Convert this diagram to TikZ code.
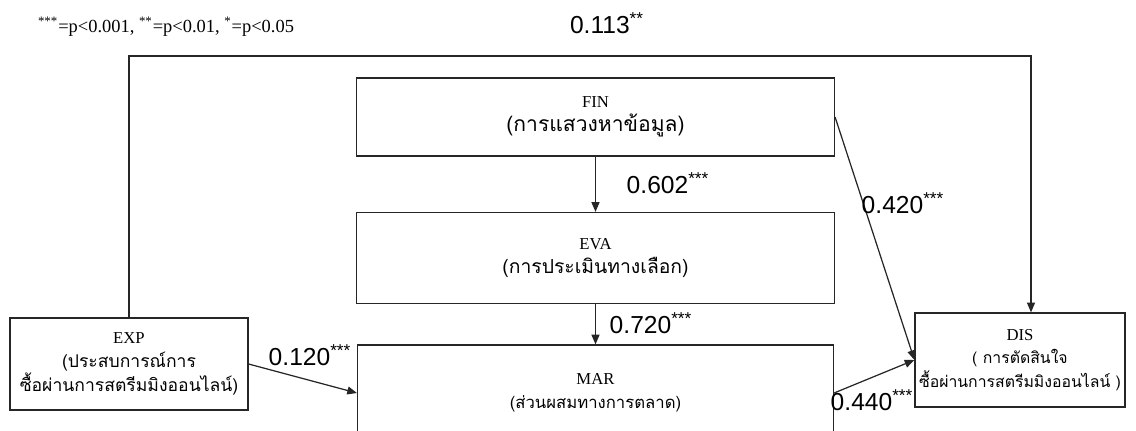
\documentclass[tikz,border=0pt]{standalone}
\usepackage{fontspec}
\setmainfont{Liberation Serif}
\newfontfamily\numfont{Liberation Sans}
\newfontfamily\thaifont[Script=Thai]{Loma}
\usetikzlibrary{arrows.meta}

\tikzset{
  box/.style={draw=black!85, line width=.7pt, rectangle, align=center, inner sep=0pt,
    font=\fontsize{9.5}{13.5}\selectfont},
  coef/.style={font=\numfont\fontsize{14}{16}\selectfont, inner sep=0pt},
  path/.style={draw=black!85, line width=.7pt, -{Triangle[length=5.5pt,width=4.5pt]}}
}
\newcommand{\thtxt}[2][10]{{\thaifont\fontsize{#1}{13.5}\selectfont #2}}

\begin{document}
\begin{tikzpicture}[x=0.02cm, y=-0.02cm]
			\clip (0,0) rectangle (1136,430);
			\fill[white] (0,0) rectangle (1136,430);
			
			\node [font=\fontsize{10.5}{12}\selectfont, inner sep=0pt] (key) at (166,27)
				{\textsuperscript{***}=p<0.001, \textsuperscript{**}=p<0.01, \textsuperscript{*}=p<0.05};
			
			\node [box, minimum width=9.56cm, minimum height=1.56cm] (FIN) at (595.5,117) {FIN\\ \thtxt[12]{(การแสวงหาข้อมูล)}};
			\node [box, minimum width=9.56cm, minimum height=1.82cm] (EVA) at (595.5,258) {EVA\\ \thtxt[11]{(การประเมินทางเลือก)}};
			\node [box, minimum width=9.52cm, minimum height=1.92cm] (MAR) at (595.5,393) {MAR\\ \thtxt[9.5]{(ส่วนผสมทางการตลาด)}};
			\node [box, minimum width=4.76cm, minimum height=1.84cm] (EXP) at (129,364) {EXP\\ \thtxt{(ประสบการณ์การ}\\ \thtxt{ซื้อผ่านการสตรีมมิงออนไลน์)}};
			\node [box, minimum width=4.2cm, minimum height=1.88cm] (DIS) at (1020,360) {DIS\\ \thtxt[9]{( การตัดสินใจ}\\ \thtxt[9]{ซื้อผ่านการสตรีมมิงออนไลน์ )}};
			
			\coordinate (topR) at (1031,56);
			\draw [path] (EXP.north) |- (topR) -- (topR |- DIS.north);
			\draw [path] (FIN) -- (EVA);
			\draw [path] (EVA) -- (MAR);
			\draw [path] (EXP.east) -- (MAR.west);
			\draw [path] (FIN.east) -- (DIS.west);
			\draw [path] (MAR.east) -- (DIS.west);
			
			\node [coef] (c113) at (607,23) {0.113\textsuperscript{**}};
			\node [coef] (c602) at (668,183) {0.602\textsuperscript{***}};
			\node [coef] (c720) at (651,323) {0.720\textsuperscript{***}};
			\node [coef] (c420) at (903,203) {0.420\textsuperscript{***}};
			\node [coef] (c120) at (310,355) {0.120\textsuperscript{***}};
			\node [coef] (c440) at (872,400) {0.440\textsuperscript{***}};
\end{tikzpicture}
\end{document}
